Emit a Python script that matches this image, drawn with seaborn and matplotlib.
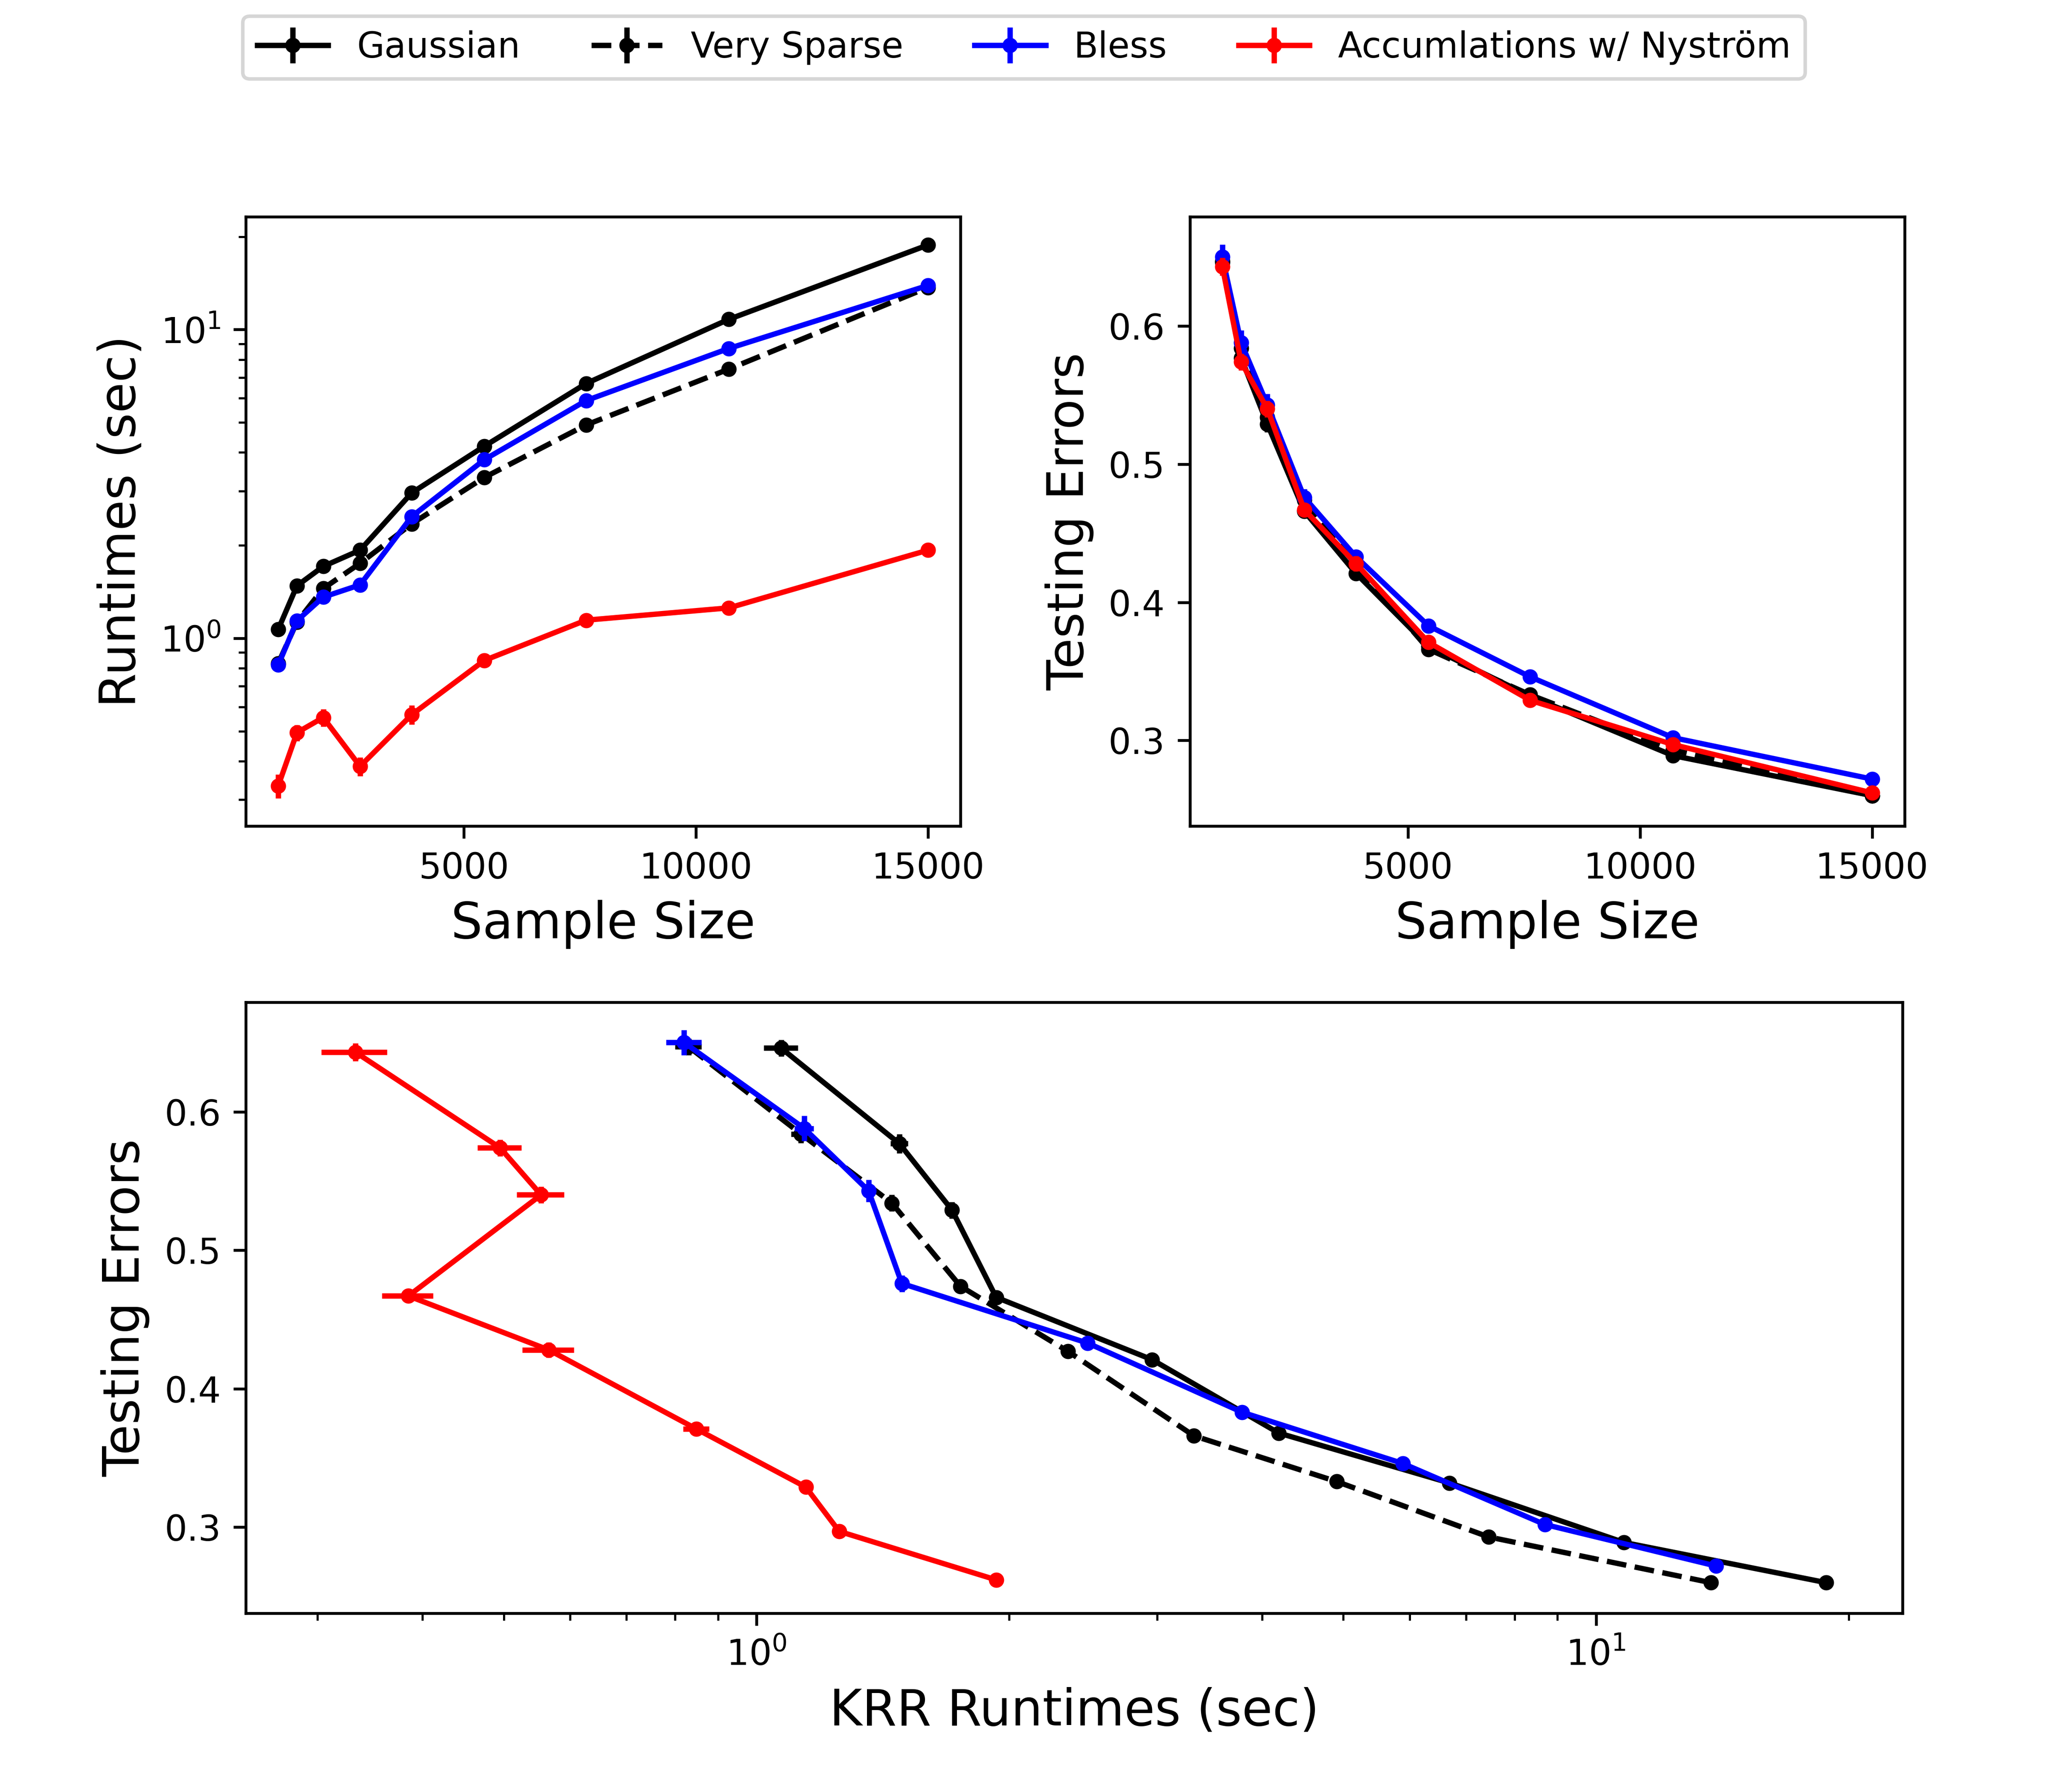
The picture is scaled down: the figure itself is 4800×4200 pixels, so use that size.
import matplotlib
matplotlib.use("Agg")
import matplotlib.pyplot as plt
import seaborn as sns
import numpy as np
from matplotlib.container import ErrorbarContainer
from matplotlib.ticker import MultipleLocator

plt.rcParams['font.family'] = ['DejaVu Sans']

# ---------------- data ----------------
sample_sizes = [1000, 1403, 1969, 2763, 3877, 5440, 7633, 10710, 15000]

series_names = ["Gaussian", "Very Sparse", "Bless", "Accumlations w/ Nyström"]

gauss_rt = [1.07, 1.48, 1.71, 1.93, 2.96, 4.19, 6.69, 10.8, 18.8]
sparse_rt = [0.83, 1.13, 1.45, 1.75, 2.35, 3.32, 4.91, 7.45, 13.7]
bless_rt = [0.82, 1.14, 1.36, 1.49, 2.48, 3.79, 5.89, 8.69, 13.9]
accum_rt = [0.333, 0.495, 0.554, 0.385, 0.566, 0.848, 1.145, 1.255, 1.93]

gauss_rt_err = [0.05, 0.035, 0.02, 0.02, 0.02, 0.02, 0.03, 0.05, 0.06]
sparse_rt_err = [0.03, 0.03, 0.02, 0.02, 0.02, 0.02, 0.03, 0.04, 0.05]
bless_rt_err = [0.04, 0.03, 0.02, 0.015, 0.02, 0.02, 0.03, 0.04, 0.05]
accum_rt_err = [0.03, 0.03, 0.036, 0.027, 0.04, 0.03, 0.01, 0.01, 0.01]

gauss_te = [0.646, 0.577, 0.529, 0.466, 0.421, 0.368, 0.332, 0.289, 0.260]
sparse_te = [0.647, 0.584, 0.534, 0.474, 0.427, 0.366, 0.333, 0.293, 0.260]
bless_te = [0.650, 0.588, 0.543, 0.476, 0.433, 0.383, 0.346, 0.302, 0.272]
accum_te = [0.643, 0.574, 0.540, 0.467, 0.428, 0.371, 0.329, 0.297, 0.262]

gauss_te_err = [0.006, 0.007, 0.006, 0.004, 0.004, 0.003, 0.003, 0.003, 0.002]
sparse_te_err = [0.006, 0.0066, 0.006, 0.004, 0.004, 0.003, 0.003, 0.003, 0.002]
bless_te_err = [0.009, 0.009, 0.008, 0.006, 0.004, 0.003, 0.003, 0.003, 0.002]
accum_te_err = [0.0066, 0.006, 0.006, 0.004, 0.0056, 0.004, 0.003, 0.003, 0.002]

# ---------------- style ----------------
colors = ["black", "black", "blue", "red"]
styles = ["-", "--", "-", "-"]
LW = 1.5
MS = 4.3

runtimes = [gauss_rt, sparse_rt, bless_rt, accum_rt]
runtimes_err = [gauss_rt_err, sparse_rt_err, bless_rt_err, accum_rt_err]
errors = [gauss_te, sparse_te, bless_te, accum_te]
errors_err = [gauss_te_err, sparse_te_err, bless_te_err, accum_te_err]

fig = plt.figure(figsize=(8, 7), dpi=600)
ax1 = fig.add_axes([0.120, 0.539, 0.349, 0.340])
ax2 = fig.add_axes([0.581, 0.539, 0.349, 0.340])
ax3 = fig.add_axes([0.120, 0.0998, 0.809, 0.3409])

ax1.set_yscale("log")
ax3.set_xscale("log")


def draw(ax, x, y, c, ls, xerr=None, yerr=None):
    eb = ax.errorbar(x, y, xerr=xerr, yerr=yerr, fmt="none", ecolor=c,
                     elinewidth=LW, capsize=0)
    sns.lineplot(x=x, y=y, ax=ax, color=c, linestyle=ls, linewidth=LW,
                 marker="o", markersize=MS, markeredgewidth=0,
                 markeredgecolor=c, sort=False, estimator=None)
    return eb, ax.lines[-1]


handles = []
for name, rt, rte, te, tee, c, ls in zip(series_names, runtimes, runtimes_err,
                                         errors, errors_err, colors, styles):
    eb, line = draw(ax1, sample_sizes, rt, c, ls, yerr=rte)
    handles.append(ErrorbarContainer((line, (), eb.lines[2]),
                                     has_xerr=False, has_yerr=True, label=name))
    draw(ax2, sample_sizes, te, c, ls, yerr=tee)
    draw(ax3, rt, te, c, ls, xerr=rte, yerr=tee)

for ax in (ax1, ax2, ax3):
    if ax.get_legend() is not None:
        ax.get_legend().remove()

# log-axis limits from the data (5% margin in log space)
rt_all = np.array(runtimes)
rte_all = np.array(runtimes_err)
lo = np.log10((rt_all - rte_all).min())
hi = np.log10((rt_all + rte_all).max())
pad = 0.05 * (hi - lo)
ax1.set_ylim(10 ** (lo - pad), 10 ** (hi + pad))
ax3.set_xlim(10 ** (lo - pad), 10 ** (hi + pad))

ax1.set_xlabel("Sample Size", fontsize=14)
ax1.set_ylabel("Runtimes (sec)", fontsize=14)
ax2.set_xlabel("Sample Size", fontsize=14)
ax2.set_ylabel("Testing Errors", fontsize=14)
ax3.set_xlabel("KRR Runtimes (sec)", fontsize=14)
ax3.set_ylabel("Testing Errors", fontsize=14)

ax1.xaxis.set_major_locator(MultipleLocator(5000))
ax2.xaxis.set_major_locator(MultipleLocator(5000))
ax2.yaxis.set_major_locator(MultipleLocator(0.1))
ax3.yaxis.set_major_locator(MultipleLocator(0.1))

for ax in (ax1, ax2, ax3):
    ax.tick_params(labelsize=10)

fig.legend(handles=handles, labels=series_names, loc="upper center",
           bbox_to_anchor=(0.5, 0.991), ncol=4, fontsize=10, borderaxespad=0)

fig.savefig("out.png", dpi=600)
